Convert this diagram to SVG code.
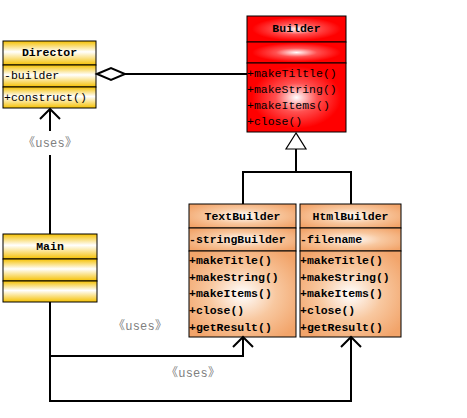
<svg xmlns="http://www.w3.org/2000/svg" width="467" height="418" viewBox="0 0 467 418">
<defs>
<linearGradient id="gy" x1="0" y1="0" x2="0" y2="1">
<stop offset="0" stop-color="#F5C000"/>
<stop offset="0.45" stop-color="#FFFFFF"/>
<stop offset="1" stop-color="#F5C000"/>
</linearGradient>
<radialGradient id="gr" cx="0.5" cy="0.5" r="0.6">
<stop offset="0" stop-color="#FFFFFF"/>
<stop offset="0.35" stop-color="#FF5050"/>
<stop offset="0.75" stop-color="#FF0000"/>
<stop offset="1" stop-color="#FF0000"/>
</radialGradient>
<radialGradient id="go" cx="0.5" cy="0.5" r="0.62">
<stop offset="0" stop-color="#FFFFFF"/>
<stop offset="0.5" stop-color="#F8C8A0"/>
<stop offset="1" stop-color="#F2A46A"/>
</radialGradient>
<style>
.box{stroke:#000;stroke-width:1}
.t{font-family:"Liberation Mono","DejaVu Sans Mono",monospace;font-size:11.5px;fill:#000}
.b{font-weight:bold}
.c{text-anchor:middle}
.ln{fill:none;stroke:#000;stroke-width:2}
.u{font-family:"Liberation Mono","Noto Sans CJK SC",monospace;font-size:12px;fill:#808080;text-anchor:middle}
</style>
</defs>

<g id="Director">
<rect class="box" x="3" y="41" width="93" height="24" fill="url(#gy)"/>
<rect class="box" x="3" y="65" width="93" height="22" fill="url(#gy)"/>
<rect class="box" x="3" y="87" width="93" height="21" fill="url(#gy)"/>
<text class="t b c" x="49.5" y="56">Director</text>
<text class="t" x="4" y="79">-builder</text>
<text class="t" x="4" y="101">+construct()</text>
</g>

<g id="Builder">
<rect class="box" x="247" y="16" width="99" height="26" fill="url(#gr)"/>
<rect class="box" x="247" y="42" width="99" height="21" fill="url(#gr)"/>
<rect class="box" x="247" y="63" width="99" height="69" fill="url(#gr)"/>
<text class="t b c" x="296.5" y="32">Builder</text>
<text class="t" x="247" y="77">+makeTiltle()</text>
<text class="t" x="247" y="93">+makeString()</text>
<text class="t" x="247" y="109">+makeItems()</text>
<text class="t" x="247" y="125">+close()</text>
</g>

<g id="TextBuilder">
<rect class="box" x="189" y="204" width="107" height="24" fill="url(#go)"/>
<rect class="box" x="189" y="228" width="107" height="23" fill="url(#go)"/>
<rect class="box" x="189" y="251" width="107" height="86" fill="url(#go)"/>
<text class="t b c" x="242.5" y="220">TextBuilder</text>
<text class="t b" x="189" y="243">-stringBuilder</text>
<text class="t b" x="189" y="264">+makeTitle()</text>
<text class="t b" x="189" y="281">+makeString()</text>
<text class="t b" x="189" y="297">+makeItems()</text>
<text class="t b" x="189" y="314">+close()</text>
<text class="t b" x="189" y="331">+getResult()</text>
</g>

<g id="HtmlBuilder">
<rect class="box" x="300" y="204" width="101" height="24" fill="url(#go)"/>
<rect class="box" x="300" y="228" width="101" height="23" fill="url(#go)"/>
<rect class="box" x="300" y="251" width="101" height="86" fill="url(#go)"/>
<text class="t b c" x="350.5" y="220">HtmlBuilder</text>
<text class="t b" x="300" y="243">-filename</text>
<text class="t b" x="300" y="264">+makeTitle()</text>
<text class="t b" x="300" y="281">+makeString()</text>
<text class="t b" x="300" y="297">+makeItems()</text>
<text class="t b" x="300" y="314">+close()</text>
<text class="t b" x="300" y="331">+getResult()</text>
</g>

<g id="Main">
<rect class="box" x="3" y="234" width="94" height="25" fill="url(#gy)"/>
<rect class="box" x="3" y="259" width="94" height="22" fill="url(#gy)"/>
<rect class="box" x="3" y="281" width="94" height="21" fill="url(#gy)"/>
<text class="t b c" x="50" y="250">Main</text>
</g>

<g id="connectors">
<line class="ln" x1="125" y1="74" x2="247" y2="74"/>
<polygon points="97,74 111,68 125,74 111,80" fill="#fff" stroke="#000" stroke-width="2"/>

<polygon points="296,133 286,149 306,149" fill="#fff" stroke="#000" stroke-width="1.2"/>
<line class="ln" x1="296" y1="149" x2="296" y2="172"/>
<polyline class="ln" points="243,204 243,172 351,172 351,204"/>

<line class="ln" x1="50" y1="110" x2="50" y2="131"/>
<line class="ln" x1="50" y1="155" x2="50" y2="234"/>
<polyline class="ln" points="40,119 50,109 60,119"/>
<text class="u" x="50" y="147" textLength="54" lengthAdjust="spacing">《uses》</text>

<polyline class="ln" points="50,302 50,356 243,356 243,338"/>
<polyline class="ln" points="233,347 243,337 253,347"/>
<text class="u" x="140" y="330" textLength="54" lengthAdjust="spacing">《uses》</text>

<polyline class="ln" points="50,356 50,401 351,401 351,338"/>
<polyline class="ln" points="341,347 351,337 361,347"/>
<text class="u" x="193" y="377" textLength="54" lengthAdjust="spacing">《uses》</text>
</g>
</svg>
